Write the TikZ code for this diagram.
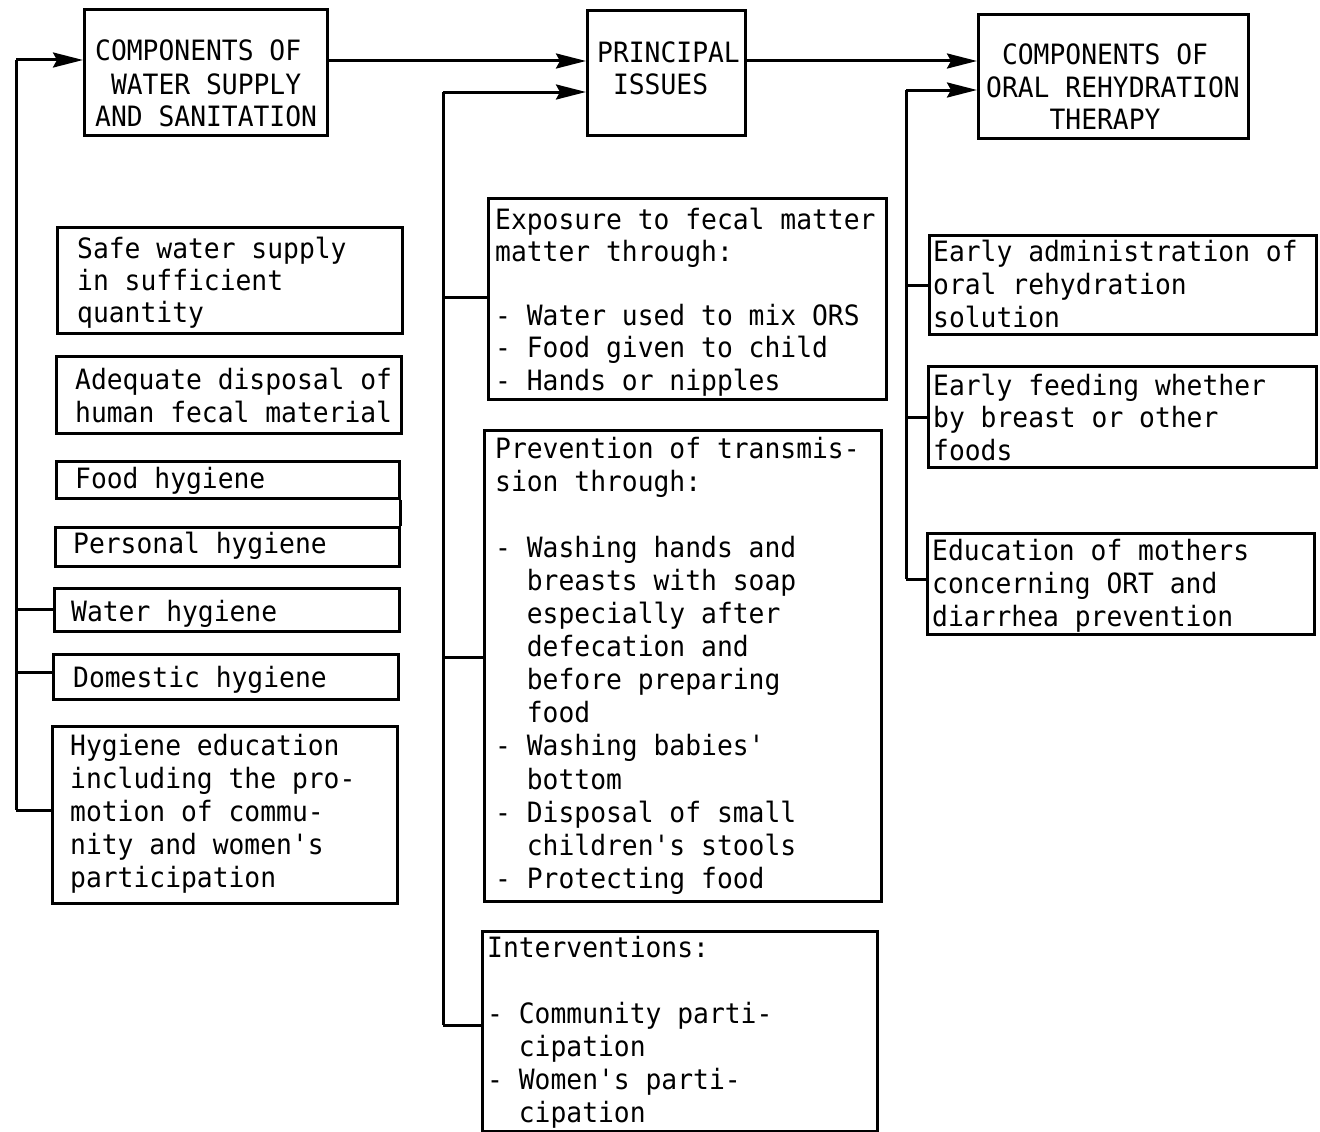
\documentclass[tikz,border=0pt]{standalone}
\usepackage{fontspec}
\newfontfamily\tw{DejaVu Sans Mono}[FakeStretch=0.94]
\usetikzlibrary{arrows.meta}
\newcommand\tblk[2][33]{\vtop{\baselineskip=#1pt\lineskiplimit=-100pt\halign{##\hfil\cr#2\crcr}}}
\newcommand\gapA{\hphantom{0}}
\newcommand\gapB{\hphantom{00}}
\newcommand\gapD{\hphantom{0000}}
\tikzset{
  bx/.style={draw, line width=2.8pt, inner sep=0pt, anchor=north west},
  txt/.style={inner sep=0pt, anchor=base west, font=\tw\fontsize{28}{33}\selectfont},
  conn/.style={line width=3pt},
  arr/.style={line width=3pt, -{Stealth[length=30pt,width=15pt,inset=4pt]}}
}
\begin{document}
\begin{tikzpicture}[x=1pt,y=-1pt]
\useasboundingbox (0,0) rectangle (1320,1132);
\fill[white] (0,0) rectangle (1320,1132);

% top row
\node[bx, minimum width=243pt, minimum height=126pt] (b1) at (83,8) {};
\node[txt] (b1t) at (95,61) {\tblk{COMPONENTS OF\cr\gapA WATER SUPPLY\cr AND SANITATION}};
\node[bx, minimum width=158pt, minimum height=125pt] (pi) at (586,9) {};
\node[txt] (pit) at (597,63) {\tblk[32]{PRINCIPAL\cr\gapA ISSUES}};
\node[bx, minimum width=270pt, minimum height=124pt] (ort) at (977,13) {};
\node[txt] (ortt) at (986,65) {\tblk[32.5]{\gapA COMPONENTS OF\cr ORAL REHYDRATION\cr\gapD THERAPY}};

% left column
\node[bx, minimum width=345pt, minimum height=106pt] (s1) at (56,226) {};
\node[txt] (s1t) at (77,258) {\tblk[32]{Safe water supply\cr in sufficient\cr quantity}};
\node[bx, minimum width=345pt, minimum height=77pt] (s2) at (55,355) {};
\node[txt] (s2t) at (75,389) {\tblk{Adequate disposal of\cr human fecal material}};
\node[bx, minimum width=343pt, minimum height=37pt] (s3) at (55,460) {};
\node[txt] (s3t) at (75,488) {\tblk{Food hygiene}};
\node[bx, minimum width=344pt, minimum height=39pt] (s4) at (54,526) {};
\node[txt] (s4t) at (73,553) {\tblk{Personal hygiene}};
\node[bx, minimum width=345pt, minimum height=43pt] (s5) at (53,587) {};
\node[txt] (s5t) at (71,621) {\tblk{Water hygiene}};
\node[bx, minimum width=345pt, minimum height=45pt] (s6) at (52,653) {};
\node[txt] (s6t) at (73,687) {\tblk{Domestic hygiene}};
\node[bx, minimum width=345pt, minimum height=177pt] (s7) at (51,725) {};
\node[txt] (s7t) at (70,755) {\tblk{Hygiene education\cr including the pro-\cr motion of commu-\cr nity and women's\cr participation}};

% middle column
\node[bx, minimum width=398pt, minimum height=201pt] (ex) at (487,197) {};
\node[txt] (ext) at (495,229) {\tblk[32.2]{Exposure to fecal matter\cr matter through:\cr\cr - Water used to mix ORS\cr - Food given to child\cr - Hands or nipples}};
\node[bx, minimum width=397pt, minimum height=471pt] (pr) at (483,429) {};
\node[txt] (prt) at (495,458) {\tblk[33.1]{Prevention of transmis-\cr sion through:\cr\cr - Washing hands and\cr\gapB breasts with soap\cr\gapB especially after\cr\gapB defecation and\cr\gapB before preparing\cr\gapB food\cr - Washing babies'\cr\gapB bottom\cr - Disposal of small\cr\gapB children's stools\cr - Protecting food}};
\node[bx, minimum width=395pt, minimum height=200pt] (iv) at (481,930) {};
\node[txt] (ivt) at (487,957) {\tblk{Interventions:\cr\cr - Community parti-\cr\gapB cipation\cr - Women's parti-\cr\gapB cipation}};

% right column
\node[bx, minimum width=387pt, minimum height=99pt] (r1) at (928,234) {};
\node[txt] (r1t) at (933,261) {\tblk{Early administration of\cr oral rehydration\cr solution}};
\node[bx, minimum width=388pt, minimum height=101pt] (r2) at (927,365) {};
\node[txt] (r2t) at (933,395) {\tblk[32.5]{Early feeding whether\cr by breast or other\cr foods}};
\node[bx, minimum width=387pt, minimum height=101pt] (r3) at (926,532) {};
\node[txt] (r3t) at (932,560) {\tblk[33.3]{Education of mothers\cr concerning ORT and\cr diarrhea prevention}};

% spine coordinates
\coordinate (lt) at (16,60);
\coordinate (l5) at (16,609);
\coordinate (l6) at (16,672);
\coordinate (lb) at (16,810);
\coordinate (mt) at (443,92);
\coordinate (m1) at (443,297);
\coordinate (m2) at (443,657);
\coordinate (mb) at (443,1025);
\coordinate (rt) at (906,90);
\coordinate (q1) at (906,285);
\coordinate (q2) at (906,417);
\coordinate (rb) at (906,579);
\coordinate (ta) at (0,61);

% left spine
\draw[conn] (lt) -- (lb);
\draw[arr] (lt) -- (lt -| b1.west);
\draw[conn] (l5) -- (l5 -| s5.west);
\draw[conn] (l6) -- (l6 -| s6.west);
\draw[conn] (lb) -- (lb -| s7.west);
\draw[conn] (s3.south east) -- (s3.south east |- s4.north);

% top arrows
\draw[arr] (b1.east |- ta) -- (pi.west |- ta);
\draw[arr] (pi.east |- ta) -- (ort.west |- ta);

% middle spine
\draw[conn] (mt) -- (mb);
\draw[arr] (mt) -- (mt -| pi.west);
\draw[conn] (m1) -- (m1 -| ex.west);
\draw[conn] (m2) -- (m2 -| pr.west);
\draw[conn] (mb) -- (mb -| iv.west);

% right spine
\draw[conn] (rt) -- (rb);
\draw[arr] (rt) -- (rt -| ort.west);
\draw[conn] (q1) -- (q1 -| r1.west);
\draw[conn] (q2) -- (q2 -| r2.west);
\draw[conn] (rb) -- (rb -| r3.west);
\end{tikzpicture}
\end{document}
